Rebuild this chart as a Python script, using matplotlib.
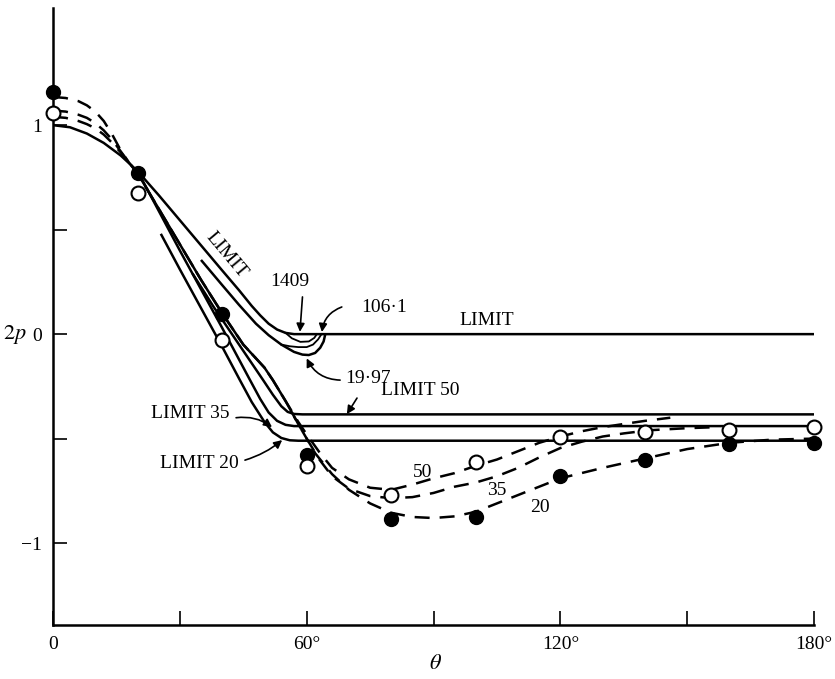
import matplotlib
matplotlib.use('Agg')
import matplotlib.pyplot as plt

plt.rcParams['font.family'] = ['Liberation Serif', 'DejaVu Serif']
plt.rcParams['mathtext.fontset'] = 'stix'

# measured pressure coefficient, points every 20 degrees
theta_pts = [0, 20, 40, 60, 80, 100, 120, 140, 160, 180]
p_filled = [1.16, 0.77, 0.096, -0.58, -0.885, -0.875, -0.68, -0.60, -0.526, -0.52]
p_open = [1.06, 0.675, -0.03, -0.63, -0.77, -0.61, -0.49, -0.47, -0.46, -0.445]

# inviscid limit curve (ends flat at zero)
lim_x = [0, 4, 8, 12, 16, 20, 25, 30, 35, 40, 44, 47, 49, 51, 53, 55, 57, 180]
lim_y = [1.0, 0.99, 0.96, 0.915, 0.855, 0.78, 0.665, 0.545, 0.425, 0.305, 0.21, 0.135, 0.09, 0.05, 0.022, 0.006, 0.0, 0.0]

# viscous curves that separate just past 60 degrees
r1997_x = [35, 40, 44, 48, 51, 54, 57, 59, 60.5, 62, 63.2, 64, 64.4]
r1997_y = [0.355, 0.235, 0.14, 0.05, -0.005, -0.05, -0.085, -0.098, -0.1, -0.09, -0.065, -0.035, 0.0]
r1061_x = [54, 56, 58, 60, 61.5, 62.7, 63.5]
r1061_y = [-0.05, -0.058, -0.062, -0.062, -0.05, -0.025, 0.0]
r1409_x = [55, 56.5, 58.5, 60.5, 61.8, 62.4]
r1409_y = [0.006, -0.02, -0.037, -0.035, -0.018, 0.0]

# limit lines for Re = 20, 35, 50
l20_x = [25.5, 30, 35, 40, 44.2, 47, 50, 52, 54, 56, 58, 180]
l20_y = [0.48, 0.31, 0.125, -0.06, -0.22, -0.325, -0.42, -0.47, -0.497, -0.508, -0.51, -0.51]
l35_x = [20, 25, 30, 35, 40, 46.6, 49, 51, 53, 55, 57, 180]
l35_y = [0.78, 0.59, 0.40, 0.215, 0.03, -0.22, -0.31, -0.375, -0.415, -0.434, -0.44, -0.44]
l50_x = [33, 38, 43, 49.7, 52, 54, 55.5, 57, 59, 180]
l50_y = [0.29, 0.13, -0.02, -0.22, -0.29, -0.345, -0.372, -0.382, -0.384, -0.384]

# dashed theoretical curves
d20_x = [0, 3, 6, 8, 10, 12, 14, 16, 18, 20, 25, 30, 35, 40, 45, 50, 52, 55, 58, 62, 66, 70, 75, 80, 85, 90, 95, 100, 110, 120, 130, 140, 150, 160, 170, 180]
d20_y = [1.135, 1.13, 1.115, 1.095, 1.065, 1.02, 0.955, 0.88, 0.82, 0.77, 0.6, 0.43, 0.26, 0.1, -0.05, -0.16, -0.22, -0.32, -0.43, -0.57, -0.67, -0.745, -0.81, -0.855, -0.875, -0.88, -0.872, -0.85, -0.77, -0.69, -0.64, -0.595, -0.55, -0.52, -0.505, -0.50]
d35_x = [0, 3, 6, 8, 10, 12, 14, 16, 18, 20, 25, 30, 35, 40, 45, 50, 52, 55, 58, 60, 63, 66, 70, 75, 80, 85, 90, 95, 100, 105, 110, 115, 120, 125, 130, 135, 141, 150, 157]
d35_y = [1.07, 1.065, 1.05, 1.035, 1.01, 0.975, 0.93, 0.875, 0.82, 0.77, 0.6, 0.43, 0.26, 0.1, -0.05, -0.16, -0.22, -0.32, -0.43, -0.5, -0.6, -0.68, -0.74, -0.775, -0.785, -0.78, -0.76, -0.73, -0.71, -0.68, -0.64, -0.59, -0.545, -0.515, -0.49, -0.475, -0.46, -0.45, -0.445]
d50_x = [0, 3, 6, 8, 10, 12, 14, 16, 18, 20, 25, 30, 35, 40, 45, 50, 52, 55, 58, 60, 63, 66, 70, 75, 80, 85, 90, 95, 100, 105, 110, 115, 120, 125, 130, 135, 140, 146]
d50_y = [1.04, 1.035, 1.02, 1.005, 0.985, 0.955, 0.915, 0.87, 0.82, 0.77, 0.6, 0.43, 0.26, 0.1, -0.05, -0.16, -0.22, -0.32, -0.42, -0.48, -0.565, -0.64, -0.695, -0.735, -0.745, -0.72, -0.69, -0.665, -0.63, -0.6, -0.56, -0.52, -0.49, -0.465, -0.445, -0.43, -0.415, -0.40]

x_ticks = [0, 30, 60, 90, 120, 150, 180]
x_labels = ['0', '', '60°', '', '120°', '', '180°']
y_ticks = [-1, -0.5, 0, 0.5, 1]
y_labels = ['\u22121', '', '0', '', '1']

fig = plt.figure(figsize=(8.35, 6.79), dpi=100)
ax = fig.add_axes([0.0635, 0.0795, 0.9114, 0.9085])

solid = dict(color='black', lw=1.8, solid_capstyle='butt')
ax.plot(lim_x, lim_y, **solid)
ax.plot(r1997_x, r1997_y, **solid)
ax.plot(r1061_x, r1061_y, color='black', lw=1.3)
ax.plot(r1409_x, r1409_y, color='black', lw=1.3)
ax.plot(l20_x, l20_y, **solid)
ax.plot(l35_x, l35_y, **solid)
ax.plot(l50_x, l50_y, **solid)

dashed = dict(color='black', lw=1.8, dashes=(6, 4))
ax.plot(d20_x, d20_y, **dashed)
ax.plot(d35_x, d35_y, **dashed)
ax.plot(d50_x, d50_y, **dashed)

ax.plot(theta_pts, p_filled, 'o', ms=10, mfc='black', mec='black', clip_on=False, zorder=5)
ax.plot(theta_pts, p_open, 'o', ms=10, mfc='white', mec='black', mew=1.5, clip_on=False, zorder=5)

fs = 14
ax.text(41.0, 0.38, 'LIMIT', fontsize=fs, rotation=-50, ha='center', va='center', rotation_mode='anchor')
ax.text(102.6, 0.067, 'LIMIT', fontsize=fs, ha='center', va='center')
ax.text(56.1, 0.254, '1409', fontsize=fs, ha='center', va='center')
ax.text(78.3, 0.129, '106\u00b71', fontsize=fs, ha='center', va='center')
ax.text(74.5, -0.21, '19\u00b797', fontsize=fs, ha='center', va='center')
ax.text(86.8, -0.268, 'LIMIT 50', fontsize=fs, ha='center', va='center')
ax.text(32.4, -0.378, 'LIMIT 35', fontsize=fs, ha='center', va='center')
ax.text(34.5, -0.617, 'LIMIT 20', fontsize=fs, ha='center', va='center')
ax.text(87.5, -0.66, '50', fontsize=fs, ha='center', va='center')
ax.text(105.0, -0.746, '35', fontsize=fs, ha='center', va='center')
ax.text(115.2, -0.83, '20', fontsize=fs, ha='center', va='center')

arrow = dict(arrowstyle='-|>', color='black', lw=1.2, mutation_scale=12, shrinkA=0, shrinkB=0)
ax.annotate('', xy=(58.4, 0.011), xytext=(59.0, 0.178), arrowprops=arrow)
ax.annotate('', xy=(63.6, 0.01), xytext=(68.3, 0.13),
            arrowprops=dict(arrow, connectionstyle='arc3,rad=0.3'))
ax.annotate('', xy=(60.0, -0.116), xytext=(67.9, -0.22),
            arrowprops=dict(arrow, connectionstyle='arc3,rad=-0.3'))
ax.annotate('', xy=(69.5, -0.383), xytext=(71.9, -0.306), arrowprops=arrow)
ax.annotate('', xy=(51.8, -0.445), xytext=(43.3, -0.40),
            arrowprops=dict(arrow, connectionstyle='arc3,rad=-0.2'))
ax.annotate('', xy=(54.2, -0.507), xytext=(45.4, -0.603),
            arrowprops=dict(arrow, connectionstyle='arc3,rad=0.1'))

ax.set_xlim(0, 180)
ax.set_ylim(-1.392, 1.56)
ax.spines['top'].set_visible(False)
ax.spines['right'].set_visible(False)
ax.spines['left'].set_linewidth(1.8)
ax.spines['bottom'].set_linewidth(1.8)

ax.set_xticks(x_ticks)
ax.set_xticklabels(x_labels)
ax.set_yticks(y_ticks)
ax.set_yticklabels(y_labels)
ax.tick_params(direction='in', length=10, width=1.2, labelsize=fs, pad=8)

ax.set_xlabel(r'$\theta$', fontsize=16)
ax.xaxis.set_label_coords(0.503, -0.048)
ax.set_ylabel(r'$2p$', fontsize=16, rotation=0, ha='center', va='center')
ax.yaxis.set_label_coords(-0.05, 0.4715)

plt.savefig('out.png', dpi=100)
